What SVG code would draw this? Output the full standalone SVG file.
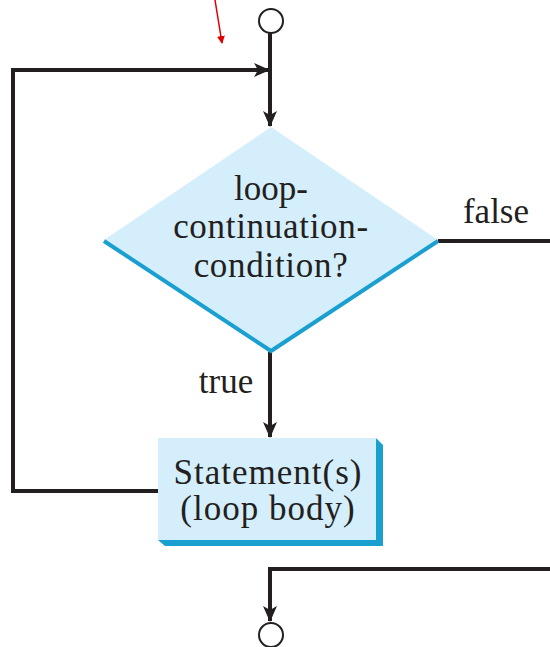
<svg xmlns="http://www.w3.org/2000/svg" width="550" height="647" viewBox="0 0 550 647">
<style>
.ln{fill:none;stroke:#231f20;stroke-width:4;}
.ah{marker-end:url(#arr);}
.txt{font-family:'Liberation Serif',serif;font-size:35px;fill:#231f20;text-anchor:middle;}
.wide{letter-spacing:1px;}
.mid{letter-spacing:0.7px;}
.term{fill:#ffffff;stroke:#231f20;stroke-width:2;}
.fill{fill:#d5eefb;}
.edge{fill:none;stroke:#199fd0;stroke-width:4;stroke-linejoin:miter;}
</style>
<defs>
<marker id="arr" markerUnits="userSpaceOnUse" markerWidth="16" markerHeight="14" refX="15" refY="7" orient="auto">
<path d="M0,0 L16,7 L0,14 L4,7 Z" fill="#231f20"/>
</marker>
<marker id="red" markerUnits="userSpaceOnUse" markerWidth="8" markerHeight="8" refX="7" refY="4" orient="auto">
<path d="M0,0 L8,4 L0,8 Z" fill="#e00000"/>
</marker>
</defs>
<g id="connectors">
<line class="ln ah" x1="270" y1="33" x2="270" y2="126"/>
<polyline class="ln ah" points="158,491 13,491 13,70 269,70"/>
<line class="ln ah" x1="270" y1="352" x2="270" y2="437"/>
<polyline class="ln" points="438,241 550,241"/>
<polyline class="ln ah" points="550,569 270,569 270,621"/>
<line x1="215" y1="0" x2="222" y2="43" stroke="#e00000" stroke-width="1.5" marker-end="url(#red)"/>
</g>
<g id="start">
<circle class="term" cx="271" cy="21" r="12"/>
</g>
<g id="end">
<circle class="term" cx="271" cy="635" r="12"/>
</g>
<g id="decision">
<polygon class="fill" points="271,127 438,240 271,352 104,240"/>
<polyline class="edge" points="104,241 271,351 438,241"/>
<text class="txt" x="271" y="200">loop-</text>
<text class="txt mid" x="271" y="238">continuation-</text>
<text class="txt mid" x="271" y="277">condition?</text>
</g>
<g id="true-label"><text class="txt" x="226" y="393">true</text></g>
<g id="false-label"><text class="txt" x="496" y="223">false</text></g>
<g id="body">
<polygon fill="#199fd0" points="376,438 383,445 383,546 165,546 158,540 376,540"/>
<rect class="fill" x="158" y="438" width="218" height="102"/>
<text class="txt wide" x="268" y="484">Statement(s)</text>
<text class="txt wide" x="268" y="520">(loop body)</text>
</g>
</svg>
